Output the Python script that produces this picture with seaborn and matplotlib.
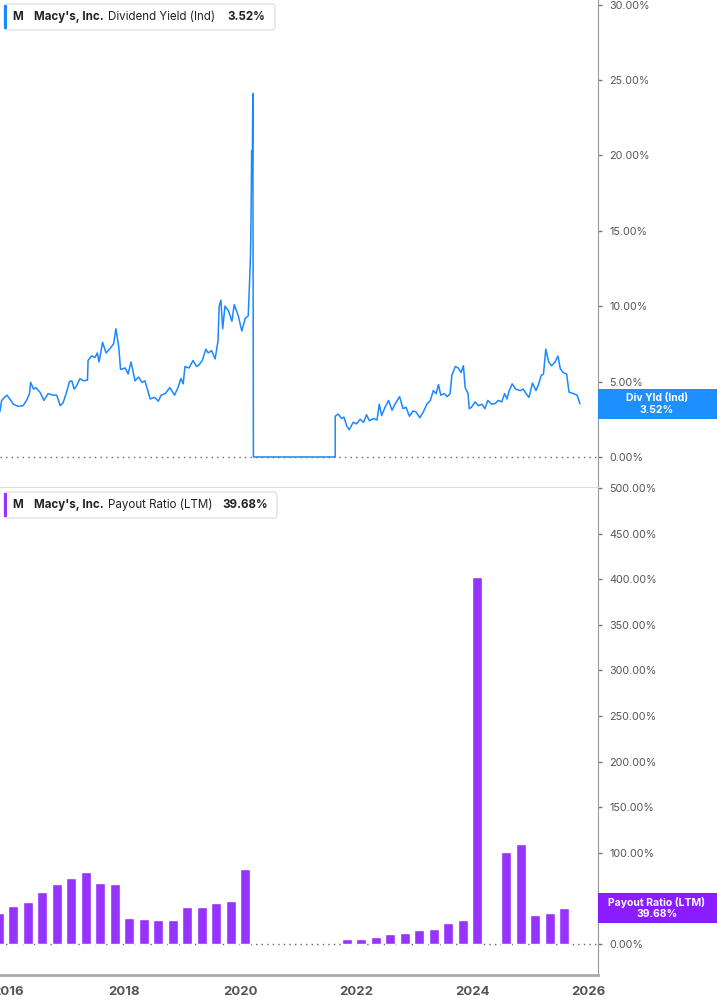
import numpy as np
import pandas as pd
import matplotlib
matplotlib.use("Agg")
import matplotlib.pyplot as plt
import matplotlib.patches as mpatches
import seaborn as sns

# -------------------------
# data
# -------------------------
yield_x = [
    2015.86, 2015.89, 2015.98, 2016.03, 2016.09, 2016.18, 2016.26, 2016.32, 2016.37, 2016.39,
    2016.44, 2016.48, 2016.55, 2016.62, 2016.69, 2016.78, 2016.84, 2016.90, 2016.95, 2017.01,
    2017.06, 2017.10, 2017.14, 2017.18, 2017.24, 2017.30, 2017.37, 2017.38, 2017.44, 2017.50,
    2017.54, 2017.57, 2017.63, 2017.69, 2017.75, 2017.82, 2017.86, 2017.91, 2017.94, 2018.02,
    2018.07, 2018.12, 2018.19, 2018.25, 2018.31, 2018.36, 2018.41, 2018.45, 2018.53, 2018.59,
    2018.64, 2018.71, 2018.79, 2018.87, 2018.93, 2018.98, 2019.02, 2019.05, 2019.12, 2019.19,
    2019.25, 2019.29, 2019.35, 2019.41, 2019.45, 2019.51, 2019.57, 2019.62, 2019.64, 2019.67,
    2019.70, 2019.74, 2019.80, 2019.86, 2019.90, 2019.97, 2020.03, 2020.09, 2020.14, 2020.16,
    2020.18, 2020.19, 2020.20, 2020.21, 2020.22, 2020.23, 2021.64, 2021.64, 2021.69, 2021.75,
    2021.79, 2021.84, 2021.88, 2021.95, 2022.01, 2022.07, 2022.13, 2022.18, 2022.23, 2022.30,
    2022.36, 2022.40, 2022.44, 2022.50, 2022.56, 2022.62, 2022.67, 2022.75, 2022.81, 2022.86,
    2022.92, 2022.98, 2023.03, 2023.10, 2023.16, 2023.22, 2023.28, 2023.33, 2023.38, 2023.42,
    2023.46, 2023.52, 2023.57, 2023.62, 2023.65, 2023.71, 2023.76, 2023.81, 2023.85, 2023.88,
    2023.93, 2023.95, 2023.99, 2024.05, 2024.11, 2024.17, 2024.22, 2024.27, 2024.34, 2024.40,
    2024.45, 2024.51, 2024.56, 2024.60, 2024.64, 2024.69, 2024.75, 2024.83, 2024.88, 2024.93,
    2024.98, 2025.04, 2025.10, 2025.14, 2025.19, 2025.23, 2025.27, 2025.32, 2025.37, 2025.43,
    2025.48, 2025.52, 2025.57, 2025.63, 2025.67, 2025.75, 2025.81, 2025.86,
]
yield_pct = [
    3.0, 3.75, 4.1, 3.86, 3.5, 3.35, 3.4, 3.75, 4.2, 4.95,
    4.5, 4.6, 4.3, 3.75, 4.2, 4.1, 4.1, 3.4, 3.6, 4.3,
    5.0, 5.05, 4.5, 4.7, 5.2, 5.05, 5.1, 6.4, 6.7, 6.6,
    6.9, 6.3, 7.6, 6.9, 7.15, 7.5, 8.5, 7.25, 5.8, 5.9,
    5.5, 6.3, 5.05, 5.3, 4.95, 5.05, 4.4, 3.85, 3.95, 3.7,
    4.1, 4.2, 4.6, 4.1, 4.6, 5.2, 4.85, 6.0, 5.9, 6.4,
    6.0, 6.1, 6.4, 7.15, 6.9, 7.05, 6.5, 7.7, 10.0, 10.4,
    8.5, 10.0, 9.7, 9.0, 10.1, 9.35, 8.35, 9.2, 9.35, 11.2,
    13.4, 16.0, 20.3, 18.7, 24.1, 0.0, 0.0, 2.7, 2.85, 2.55,
    2.65, 2.05, 1.8, 2.3, 2.2, 2.5, 2.3, 2.8, 2.4, 2.55,
    2.45, 3.5, 2.75, 3.3, 3.75, 3.1, 3.5, 4.0, 3.2, 3.3,
    2.7, 3.05, 3.0, 2.6, 3.0, 3.5, 3.75, 4.4, 4.2, 4.8,
    4.1, 4.2, 4.0, 4.2, 5.4, 6.0, 5.9, 5.6, 6.05, 4.6,
    4.2, 3.2, 3.3, 3.65, 3.4, 3.5, 3.2, 3.75, 3.5, 3.55,
    3.75, 3.65, 4.2, 3.85, 4.4, 4.85, 4.5, 4.4, 4.5, 4.2,
    3.95, 4.9, 4.4, 4.75, 5.4, 5.5, 7.15, 6.3, 6.05, 6.3,
    6.7, 5.85, 5.6, 5.5, 4.3, 4.2, 4.1, 3.52,
]

payout_x = [
    2015.84, 2016.09, 2016.34, 2016.59, 2016.84, 2017.09, 2017.34, 2017.59, 2017.84,
    2018.09, 2018.34, 2018.59, 2018.84, 2019.09, 2019.34, 2019.59, 2019.84, 2020.09,
    2021.84, 2022.09, 2022.34, 2022.59, 2022.84, 2023.09, 2023.34, 2023.59, 2023.84,
    2024.09, 2024.59, 2024.84, 2025.09, 2025.34, 2025.59,
]
payout_pct = [
    33.6, 41.7, 46.0, 57.0, 66.0, 72.0, 79.0, 67.0, 66.0,
    28.5, 27.4, 26.7, 26.3, 41.0, 41.0, 44.6, 47.5, 82.0,
    5.0, 6.0, 8.0, 11.3, 12.0, 14.8, 16.3, 23.3, 25.9,
    402.0, 101.0, 109.6, 32.0, 34.4, 39.68,
]

year_ticks = [2016, 2018, 2020, 2022, 2024, 2026]
yield_ticks = [0, 5, 10, 15, 20, 25, 30]
payout_ticks = list(range(0, 501, 50))

company = "Macy's, Inc."
ticker = "M"

# -------------------------
# style
# -------------------------
sns.set_style("white")
plt.rcParams["font.family"] = ["Inter", "DejaVu Sans"]

BLUE = "#1a88ff"
PURPLE = "#9633ff"
GREY_TXT = "#555555"

W, H = 717, 1005
fig = plt.figure(figsize=(W / 100, H / 100), dpi=100)


def fx(x):
    return x / W


def fy(y):
    return 1 - y / H


ax1 = fig.add_axes([0, fy(487), fx(598), 487 / H])
ax2 = fig.add_axes([0, fy(975), fx(598), (975 - 487) / H])

xlim = (2015.862, 2026.17)

# -------------------------
# top: dividend yield line
# -------------------------
ax1.axhline(0, color="#666666", lw=1, ls=(0, (1, 3)), zorder=1)
sns.lineplot(x=yield_x, y=yield_pct, estimator=None, sort=False,
             color=BLUE, lw=1.1, ax=ax1, zorder=3)
ax1.set_xlim(*xlim)
ax1.set_ylim(-1.99, 30.3)
ax1.set_xticks([])

# -------------------------
# bottom: payout ratio bars
# -------------------------
ax2.axhline(0, color="#666666", lw=1, ls=(0, (1, 3)), zorder=0)
bar_df = pd.DataFrame({"date": payout_x, "payout": payout_pct})
sns.barplot(data=bar_df, x="date", y="payout", native_scale=True, width=0.69,
            color=PURPLE, saturation=1, errorbar=None, ax=ax2, zorder=2)
ax2.set_xlim(*xlim)
ax2.set_ylim(-34, 501)
ax2.set_xticks(year_ticks)
ax2.set_xticklabels([str(y) for y in year_ticks], fontsize=9.5,
                    fontweight="bold", color=GREY_TXT)
ax2.tick_params(axis="x", direction="out", length=4, width=1,
                color="#aaaaaa", pad=4)

for ax, ticks in [(ax1, yield_ticks), (ax2, payout_ticks)]:
    ax.set_xlabel("")
    ax.set_ylabel("")
    ax.yaxis.tick_right()
    ax.set_yticks(ticks)
    ax.set_yticklabels([f"{t:.2f}%" for t in ticks], fontsize=7.8, color=GREY_TXT)
    ax.tick_params(axis="y", direction="out", length=3, width=1,
                   color="#777777", pad=5)
    ax.spines["left"].set_visible(False)
    ax.spines["right"].set_color("#999999")
    ax.patch.set_alpha(0)

ax1.spines["top"].set_visible(False)
ax1.spines["bottom"].set_visible(False)
ax2.spines["top"].set_color("#dddddd")
ax2.spines["bottom"].set_color("#aaaaaa")
ax2.spines["bottom"].set_linewidth(2)

# -------------------------
# legend boxes (top-left of each panel)
# -------------------------
def legend_box(y0, y1, x1, color, series, value, series_x, value_x):
    box = mpatches.FancyBboxPatch((fx(4), fy(y1)), fx(x1 - 4), (y1 - y0) / H,
                                  boxstyle="round,pad=0,rounding_size=0.004",
                                  transform=fig.transFigure, facecolor="white",
                                  edgecolor="#e2e2e2", lw=1, zorder=5)
    fig.add_artist(box)
    stripe = mpatches.Rectangle((fx(4), fy(y1 - 1)), fx(3), (y1 - y0 - 2) / H,
                                transform=fig.transFigure, facecolor=color,
                                edgecolor="none", zorder=6)
    fig.add_artist(stripe)
    yc = fy((y0 + y1) / 2)
    fs = 8.3
    fig.text(fx(12), yc, ticker, fontsize=fs, fontweight="bold", color="#222222",
             va="center", zorder=7)
    fig.text(fx(34), yc, company, fontsize=fs, fontweight="bold", color="#222222",
             va="center", zorder=7)
    fig.text(fx(series_x), yc, series, fontsize=fs, color="#222222",
             va="center", zorder=7)
    fig.text(fx(value_x), yc, value, fontsize=fs, fontweight="bold", color="#222222",
             va="center", zorder=7)


legend_box(4, 30, 275, BLUE, "Dividend Yield (Ind)", "3.52%", 108, 227)
legend_box(492, 518, 277, PURPLE, "Payout Ratio (LTM)", "39.68%", 108, 222)

# -------------------------
# value tags on the right axis
# -------------------------
def value_tag(y0, y1, color, line1, line2):
    tag = mpatches.Rectangle((fx(598), fy(y1)), fx(717 - 598), (y1 - y0) / H,
                             transform=fig.transFigure, facecolor=color,
                             edgecolor="none", zorder=5)
    fig.add_artist(tag)
    fig.text(fx(657), fy(y0 + 9), line1, fontsize=7.5, fontweight="bold",
             color="white", ha="center", va="center", zorder=6)
    fig.text(fx(657), fy(y0 + 21), line2, fontsize=7.5, fontweight="bold",
             color="white", ha="center", va="center", zorder=6)


value_tag(389, 419, "#1e8fff", "Div Yld (Ind)", "3.52%")
value_tag(893, 923, "#8a1cff", "Payout Ratio (LTM)", "39.68%")

plt.savefig("out.png", dpi=100)
